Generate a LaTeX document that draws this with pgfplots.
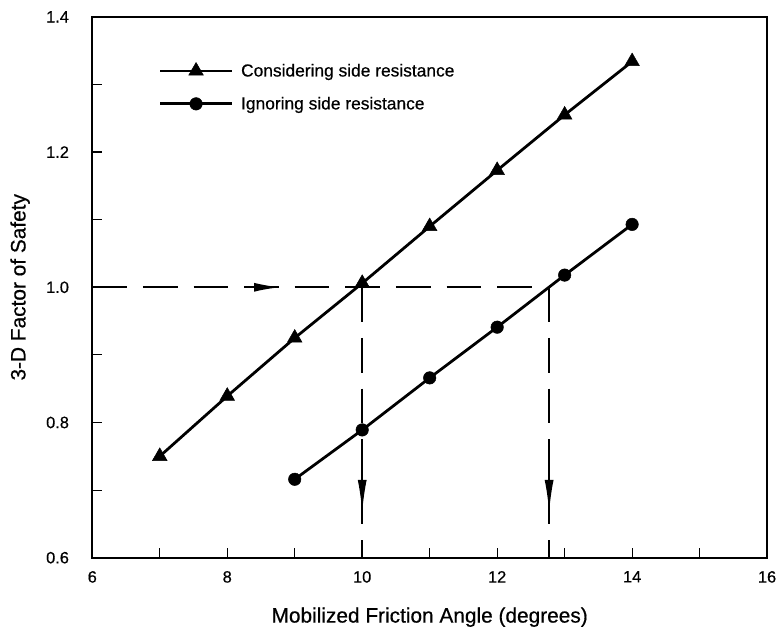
\documentclass[border=0pt]{standalone}
\usepackage{fontspec}
\setmainfont{Liberation Sans}
\newfontfamily\heavy{Liberation Sans}[FakeBold=0.5]
\usepackage{pgfplots}
\pgfplotsset{compat=1.18}
\usetikzlibrary{arrows.meta}
\begin{document}
\begin{tikzpicture}
\useasboundingbox (-93pt,-75pt) rectangle (691pt,562pt);
\begin{axis}[
  at={(0,0)}, anchor=south west,
  scale only axis, width=680pt, height=545pt,
  xmin=6, xmax=16, ymin=0.6, ymax=1.4,
  xtick={6,8,10,12,14,16}, minor xtick={7,9,11,13,15},
  ytick={0.6,0.8,1.0,1.2,1.4}, minor ytick={0.7,0.9,1.1,1.3},
  tick pos=left, tick align=inside,
  major tick length=10pt, minor tick length=10pt,
  every tick/.style={black, line width=1.2pt},
  axis line style={line width=2pt},
  /pgf/number format/assume math mode=true,
  yticklabel={\pgfmathprintnumber[fixed,precision=1,zerofill]{\tick}},
  tick label style={font=\heavy\fontsize{16.5}{16.5}\selectfont},
  xticklabel style={yshift=-10pt},
  yticklabel style={xshift=-20pt},
  xlabel={Mobilized Friction Angle (degrees)},
  ylabel={3-D Factor of Safety},
  label style={font=\heavy\fontsize{21}{21}\selectfont},
  xlabel style={at={(axis description cs:0.5,-0.110)}, anchor=center},
  ylabel style={at={(axis description cs:-0.107,0.5)}, anchor=center},
  legend style={draw=none, fill=none, at={(axis description cs:0.0985,0.916)}, anchor=north west,
    font=\heavy\fontsize{17.5}{17.5}\selectfont, row sep=19pt, inner sep=0pt,
    nodes={inner sep=0pt, anchor=west}},
  legend cell align=left,
  legend image code/.code={
    \draw[#1, mark repeat=2, mark phase=2] plot coordinates {(0pt,0pt)(36pt,0pt)(72pt,0pt)};
    \path (80pt,0pt);
  },
]
\addplot[black, line width=2.8pt, mark=triangle*, mark size=8.5pt, mark options={solid, fill=black, line width=0.5pt}]
  coordinates {(7,0.750)(8,0.839)(9,0.925)(10,1.006)(11,1.090)(12,1.173)(13,1.255)(14,1.334)};
\addlegendentry{Considering side resistance}
\addplot[black, line width=2.8pt, mark=*, mark size=6.3pt, mark options={solid, fill=black, line width=0.5pt}]
  coordinates {(9,0.716)(10,0.789)(11,0.866)(12,0.941)(13,1.018)(14,1.093)};
\addlegendentry{Ignoring side resistance}
\addplot[black, line width=2.4pt, dash pattern=on 35pt off 16pt, forget plot]
  coordinates {(6,1.0)(12.77,1.0)};
\addplot[black, line width=2.4pt, dash pattern=on 35pt off 16pt, forget plot]
  coordinates {(10,1.0)(10,0.6)};
\addplot[black, line width=2.4pt, dash pattern=on 35pt off 16pt, forget plot]
  coordinates {(12.77,1.0)(12.77,0.6)};
\addplot[black, line width=1.5pt, -{Latex[length=26pt,width=9pt]}, forget plot]
  coordinates {(8.3,1.0)(8.78,1.0)};
\addplot[black, line width=1.5pt, -{Latex[length=32pt,width=9pt]}, forget plot]
  coordinates {(10,0.73)(10,0.668)};
\addplot[black, line width=1.5pt, -{Latex[length=32pt,width=9pt]}, forget plot]
  coordinates {(12.77,0.73)(12.77,0.668)};
\end{axis}
\end{tikzpicture}
\end{document}
